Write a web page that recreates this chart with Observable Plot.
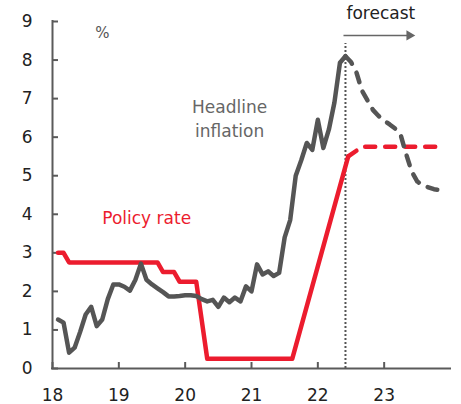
<!DOCTYPE html>
<html><head><meta charset="utf-8">
<script src="https://cdn.jsdelivr.net/npm/d3@7"></script>
<script src="https://cdn.jsdelivr.net/npm/@observablehq/plot@0.6"></script>
<style>
body{margin:0;background:#fff;}
#chart svg{display:block;}
</style>
</head><body><div id="chart"></div>
<script>
// Headline inflation, monthly from Feb 2018 to Jun 2022 (%)
const inflationStart = 2018 + 1 / 12;
const inflation = [1.27, 1.19, 0.41, 0.54, 0.95, 1.4, 1.6, 1.1, 1.27, 1.8, 2.18, 2.18,
  2.12, 2.02, 2.3, 2.72, 2.3, 2.18, 2.08, 1.98, 1.87, 1.87, 1.88, 1.9,
  1.9, 1.88, 1.8, 1.74, 1.78, 1.6, 1.84, 1.72, 1.84, 1.74, 2.13, 2.0,
  2.7, 2.44, 2.52, 2.4, 2.48, 3.4, 3.85, 5.0, 5.4, 5.85, 5.67, 6.45,
  5.72, 6.2, 6.9, 7.93, 8.1];
// Forecast, monthly from Jun 2022 to Dec 2023 (%)
const forecastStartDate = 2022 + 5 / 12;
const inflationForecast = [8.1, 7.95, 7.67, 7.2, 6.95, 6.7, 6.55, 6.43, 6.33, 6.22,
  6.05, 5.55, 5.1, 4.85, 4.75, 4.7, 4.65, 4.63, 4.63];
// Policy rate (%)
const policyDates = [2018.083, 2018.167, 2018.25, 2019.583, 2019.667, 2019.833, 2019.917,
  2020.167, 2020.333, 2021.614, 2022.458];
const policyValues = [3.0, 3.0, 2.75, 2.75, 2.5, 2.5, 2.25, 2.25, 0.25, 0.25, 5.5];
const policyForecastDates = [2022.458, 2022.667, 2023.9];
const policyForecastValues = [5.5, 5.75, 5.75];

const yTicks = [0, 1, 2, 3, 4, 5, 6, 7, 8, 9];
const xTicks = [2018, 2019, 2020, 2021, 2022, 2023];
const xTickLabels = ["18", "19", "20", "21", "22", "23"];

const GRAY = "#555555", RED = "#ec1c2e", AXIS = "#5a5a5a";

const inflData = inflation.map((v, i) => ({t: inflationStart + i / 12, v}));
const inflFcData = inflationForecast.map((v, i) => ({t: forecastStartDate + i / 12, v}));
const polData = policyDates.map((t, i) => ({t, v: policyValues[i]}));
const polFcData = policyForecastDates.map((t, i) => ({t, v: policyForecastValues[i]}));

const labels = [
  {t: 2020.67, v: 6.78, text: "Headline", fill: "#666666"},
  {t: 2020.67, v: 6.14, text: "inflation", fill: "#666666"},
  {t: 2019.42, v: 3.9, text: "Policy rate", fill: RED}
];

const chart = Plot.plot({
  width: 461,
  height: 404,
  marginLeft: 52,
  marginRight: 11,
  marginTop: 21,
  marginBottom: 36,
  style: {fontFamily: "DejaVu Sans", fontSize: "17px", background: "#fff"},
  x: {domain: [2018, 2024], axis: null},
  y: {domain: [0, 9], axis: null},
  marks: [
    Plot.axisY(yTicks, {tickSize: -6, tickPadding: 26, stroke: AXIS, strokeWidth: 2, fill: "#222", fontSize: 17, label: null}),
    Plot.axisX(xTicks, {tickSize: -6, tickPadding: 26, stroke: AXIS, strokeWidth: 2, fill: "#222", fontSize: 17, label: null,
      tickFormat: d => xTickLabels[xTicks.indexOf(d)]}),
    Plot.ruleY([0], {stroke: AXIS, strokeWidth: 2, strokeLinecap: "square"}),
    Plot.ruleX([2018], {stroke: AXIS, strokeWidth: 2, strokeLinecap: "square"}),
    Plot.ruleX([forecastStartDate], {y1: 0, y2: 8.43, stroke: "#555", strokeWidth: 2, strokeDasharray: "2,2"}),
    Plot.line(polData, {x: "t", y: "v", stroke: RED, strokeWidth: 4.5, strokeLinejoin: "round", strokeLinecap: "round"}),
    Plot.line(polFcData, {x: "t", y: "v", stroke: RED, strokeWidth: 4.5, strokeLinejoin: "round", strokeLinecap: "round", strokeDasharray: "10,10"}),
    Plot.line(inflData, {x: "t", y: "v", stroke: GRAY, strokeWidth: 4.5, strokeLinejoin: "round", strokeLinecap: "round"}),
    Plot.line(inflFcData, {x: "t", y: "v", stroke: GRAY, strokeWidth: 4.5, strokeLinejoin: "round", strokeLinecap: "round", strokeDasharray: "10,10"}),
    Plot.text(labels, {x: "t", y: "v", text: "text", fill: "fill", fontSize: 17, textAnchor: "middle"}),
    Plot.text(["%"], {x: 2018.75, y: 8.7, text: d => d, fill: "#555", fontSize: 15}),
    Plot.text(["forecast"], {x: 2022.95, y: 9.2, text: d => d, fill: "#222", fontSize: 17}),
    Plot.link([0], {x1: forecastStartDate - 0.03, x2: 2023.38, y1: 8.64, y2: 8.64, stroke: "#666", strokeWidth: 1.5}),
    Plot.dot([0], {x: 2023.38, y: 8.64, symbol: "triangle", rotate: 90, r: 3.8, fill: "#666", stroke: null})
  ]
});
document.getElementById("chart").append(chart);
</script>
</body></html>
